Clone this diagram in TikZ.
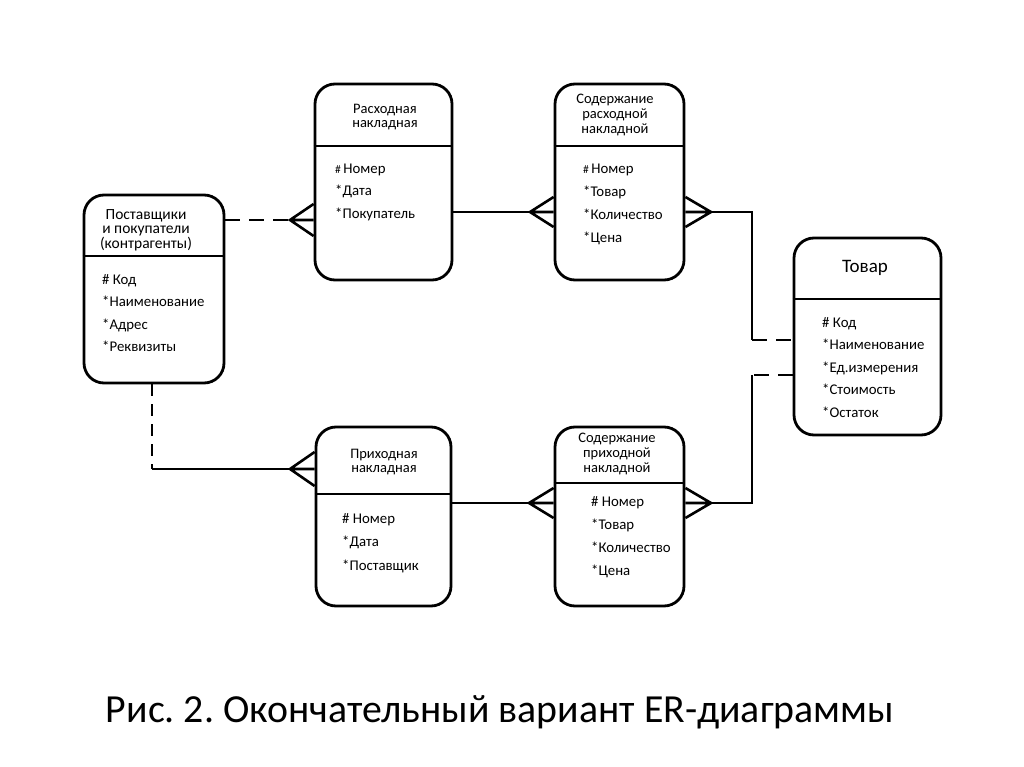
\documentclass[tikz,border=0pt]{standalone}
\usepackage{fontspec}
\setmainfont{Carlito}
\usetikzlibrary{calc}
\frenchspacing

\tikzset{
  entity/.style={draw, line width=2.8pt, rounded corners=20pt, inner sep=0pt},
  title/.style={align=center, inner sep=0pt, font=\fontsize{14.5}{14.6}\selectfont},
  attr/.style={anchor=mid west, inner sep=0pt, font=\fontsize{14.8}{16}\selectfont},
  link/.style={line width=2.6pt},
  dashlink/.style={line width=2.6pt, dash pattern=on 15pt off 9pt},
}
\newcommand{\keymark}{{\fontsize{11.5}{12}\selectfont\#}\,}

\begin{document}
\begin{tikzpicture}[x=1pt, y=-1pt]
\useasboundingbox (0,0) rectangle (1024,767);

% entities
\node[entity, minimum width=140pt, minimum height=188pt] (kontr) at (154,289) {};
\node[entity, minimum width=137pt, minimum height=196pt] (rasx) at (383.5,182) {};
\node[entity, minimum width=129pt, minimum height=196pt] (srasx) at (619.5,182) {};
\node[entity, minimum width=147pt, minimum height=197pt] (tovar) at (867.5,336.5) {};
\node[entity, minimum width=135pt, minimum height=179pt] (prix) at (383.5,516.5) {};
\node[entity, minimum width=129pt, minimum height=179pt] (sprix) at (619.5,516.5) {};

% header lines
\draw[link] (kontr.west |- 0,256) -- (kontr.east |- 0,256);
\draw[link] (rasx.west |- 0,146) -- (rasx.east |- 0,146);
\draw[link] (srasx.west |- 0,146) -- (srasx.east |- 0,146);
\draw[link] (tovar.west |- 0,299) -- (tovar.east |- 0,299);
\draw[link] (prix.west |- 0,494) -- (prix.east |- 0,494);
\draw[link] (sprix.west |- 0,483) -- (sprix.east |- 0,483);

% titles
\node[title, font=\fontsize{15.5}{14.6}\selectfont] (kontr-t) at (146,230) {Поставщики\\и покупатели\\(контрагенты)};
\node[title] (rasx-t) at (385,117) {Расходная\\накладная};
\node[title] (srasx-t) at (615,115) {Содержание\\расходной\\накладной};
\node[title, font=\fontsize{19}{20}\selectfont] (tovar-t) at (865,268) {Товар};
\node[title] (prix-t) at (384,462) {Приходная\\накладная};
\node[title] (sprix-t) at (617,454) {Содержание\\приходной\\накладной};

% attributes
\foreach \t [count=\i from 0] in {\# Код, *Наименование, *Адрес, *Реквизиты}
  \node[attr] (kontr-a\i) at (102, 282+22.5*\i) {\t};
\foreach \t [count=\i from 0] in {\keymark Номер, *Дата, *Покупатель}
  \node[attr] (rasx-a\i) at (335, 171+22.5*\i) {\t};
\foreach \t [count=\i from 0] in {\keymark Номер, *Товар, *Количество, *Цена}
  \node[attr] (srasx-a\i) at (583, 171+23*\i) {\t};
\foreach \t [count=\i from 0] in {\# Код, *Наименование, *Ед.измерения, *Стоимость, *Остаток}
  \node[attr] (tovar-a\i) at (822, 325+22.5*\i) {\t};
\foreach \t [count=\i from 0] in {\# Номер, *Дата, *Поставщик}
  \node[attr] (prix-a\i) at (342, 521+23.5*\i) {\t};
\foreach \t [count=\i from 0] in {\# Номер, *Товар, *Количество, *Цена}
  \node[attr] (sprix-a\i) at (591, 504+23*\i) {\t};

% kontr - rasx
\coordinate (ab) at (290,220);
\draw[dashlink] (kontr.east |- ab) -- (ab);
\draw[link] (rasx.west |- 0,204) -- (ab) -- (rasx.west |- 0,236) (ab) -- (rasx.west |- ab);

% rasx - srasx
\coordinate (bc) at (530,212);
\draw[link] (rasx.east |- bc) -- (bc);
\draw[link] (srasx.west |- 0,197) -- (bc) -- (srasx.west |- 0,227) (bc) -- (srasx.west |- bc);

% srasx - tovar
\coordinate (cd) at (711,212);
\coordinate (cd1) at (752,340);
\draw[link] (srasx.east |- 0,197) -- (cd) -- (srasx.east |- 0,227) (cd) -- (srasx.east |- cd);
\draw[link] (cd) -| (cd1);
\draw[dashlink] (cd1) -- (tovar.west |- cd1);

% tovar - sprix
\coordinate (fd) at (711,503);
\coordinate (fd1) at (752,375);
\draw[dashlink] (tovar.west |- fd1) -- (fd1);
\draw[link] (fd1) |- (fd);
\draw[link] (sprix.east |- 0,488) -- (fd) -- (sprix.east |- 0,518) (fd) -- (sprix.east |- fd);

% kontr - prix
\coordinate (ae) at (290,469);
\coordinate (ae1) at (152,469);
\draw[dashlink, dash pattern=on 12pt off 8pt] (kontr.south -| ae1) -- (ae1);
\draw[link] (ae1) -- (ae);
\draw[link] (prix.west |- 0,452) -- (ae) -- (prix.west |- 0,486) (ae) -- (prix.west |- ae);

% prix - sprix
\coordinate (ef) at (529,503);
\draw[link] (prix.east |- ef) -- (ef);
\draw[link] (sprix.west |- 0,488) -- (ef) -- (sprix.west |- 0,518) (ef) -- (sprix.west |- ef);

% caption
\node[anchor=base, inner sep=0pt, font=\fontsize{39.8}{48}\selectfont] (caption) at (500,722) {Рис. 2. Окончательный вариант ER-диаграммы};
\end{tikzpicture}
\end{document}
